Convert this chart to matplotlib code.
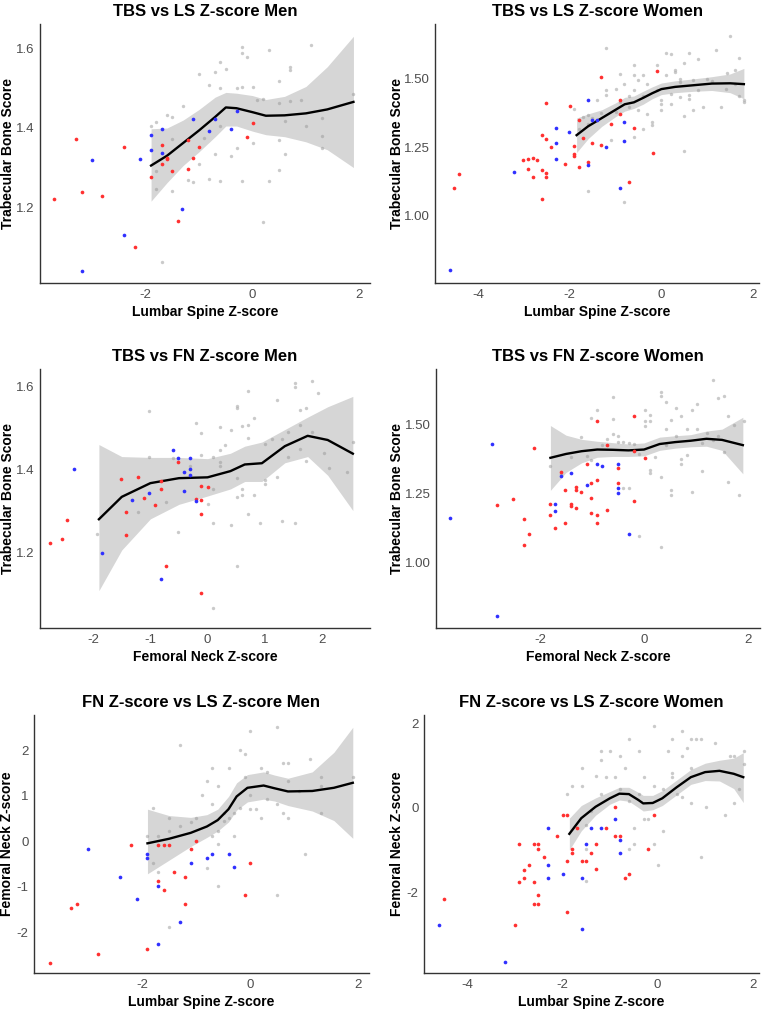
import matplotlib
matplotlib.use("Agg")
import matplotlib.pyplot as plt

W, H = 762, 1009
plt.rcParams["font.family"] = ["Liberation Sans", "DejaVu Sans"]

# ---- panel 1: TBS vs LS Z-score Men ----
p1_red_x = [-3.71, -3.30, -3.20, -2.81, -2.41, -2.20, -1.91, -1.70, -1.70, -1.61, -1.61, -1.50, -1.40, -1.20, -1.20, -1.11, -1.01, -0.11, 0.0]
p1_red_y = [1.221, 1.372, 1.238, 1.228, 1.351, 1.098, 1.275, 1.356, 1.310, 1.325, 1.322, 1.290, 1.164, 1.369, 1.296, 1.324, 1.353, 1.377, 1.413]
p1_blue_x = [-3.01, -3.20, -2.41, -2.11, -1.91, -1.91, -1.70, -1.70, -1.32, -1.11, -0.81, -0.70, -0.40, -0.30]
p1_blue_y = [1.319, 1.039, 1.130, 1.322, 1.383, 1.344, 1.397, 1.338, 1.194, 1.423, 1.392, 1.423, 1.397, 1.444]
p1_gray_x = [-1.91, -1.80, -1.80, -1.80, -1.70, -1.61, -1.50, -1.50, -1.50, -1.30, -1.20, -1.11, -1.01, -1.01, -0.91,
             -0.81, -0.81, -0.70, -0.70, -0.60, -0.60, -0.60, -0.60, -0.50, -0.40, -0.30, -0.30, -0.20, -0.20, -0.20,
             -0.20, -0.11, 0.0, 0.0, 0.09, 0.20, 0.20, 0.30, 0.30, 0.50, 0.50, 0.50, 0.50, 0.60, 0.60, 0.70, 0.70,
             0.70, 0.90, 1.00, 1.10, 1.30, 1.30, 1.30, 1.89]
p1_gray_y = [1.406, 1.415, 1.290, 1.246, 1.062, 1.432, 1.428, 1.372, 1.240, 1.455, 1.269, 1.263, 1.537, 1.310, 1.374,
             1.508, 1.272, 1.541, 1.334, 1.567, 1.501, 1.265, 1.404, 1.548, 1.328, 1.350, 1.501, 1.605, 1.590, 1.503,
             1.267, 1.580, 1.503, 1.362, 1.472, 1.474, 1.162, 1.596, 1.267, 1.520, 1.462, 1.369, 1.293, 1.417, 1.335,
             1.555, 1.546, 1.469, 1.472, 1.404, 1.611, 1.425, 1.379, 1.350, 1.487]
p1_fit_x = [-1.9, -1.6, -1.3, -1.0, -0.7, -0.5, -0.3, 0.0, 0.25, 0.6, 1.0, 1.4, 1.89]
p1_fit_y = [1.305, 1.330, 1.362, 1.394, 1.428, 1.452, 1.450, 1.440, 1.431, 1.432, 1.437, 1.447, 1.466]
p1_fit_lo = [1.215, 1.262, 1.305, 1.340, 1.378, 1.405, 1.405, 1.392, 1.383, 1.378, 1.365, 1.345, 1.300]
p1_fit_hi = [1.398, 1.400, 1.420, 1.447, 1.478, 1.490, 1.488, 1.482, 1.472, 1.480, 1.505, 1.555, 1.632]

# ---- panel 2: TBS vs LS Z-score Women ----
p2_red_x = [-4.52, -4.41, -3.01, -2.92, -2.91, -2.81, -2.81, -2.71, -2.61, -2.61, -2.61, -2.51, -2.51, -2.51, -2.51,
            -2.41, -2.11, -2.00, -1.91, -1.91, -1.91, -1.80, -1.80, -1.71, -1.61, -1.51, -1.31, -1.31, -1.11, -0.91,
            -0.91, -0.71, -0.60, -0.18, -0.10]
p2_red_y = [1.101, 1.153, 1.204, 1.169, 1.208, 1.210, 1.141, 1.204, 1.167, 1.294, 1.061, 1.410, 1.278, 1.155, 1.141,
            1.251, 1.187, 1.398, 1.254, 1.223, 1.216, 1.349, 1.177, 1.281, 1.196, 1.266, 1.505, 1.258, 1.334, 1.419,
            1.370, 1.123, 1.320, 1.229, 1.525]
p2_blue_x = [-4.62, -3.21, -2.31, -2.31, -2.31, -2.01, -1.61, -1.61, -1.51, -1.40, -1.21, -0.91, -0.81, -0.81]
p2_blue_y = [0.804, 1.159, 1.318, 1.263, 1.207, 1.305, 1.422, 1.183, 1.349, 1.349, 1.251, 1.100, 1.342, 1.273]
p2_gray_x = [-1.91, -1.80, -1.71, -1.61, -1.61, -1.61, -1.51, -1.40, -1.31, -1.21, -1.21, -1.21, -1.11, -1.00, -1.00,
             -0.91, -0.91, -0.81, -0.81, -0.71, -0.71, -0.60, -0.60, -0.60, -0.60, -0.50, -0.50, -0.40, -0.40, -0.40,
             -0.31, -0.31, -0.20, -0.20, -0.10, -0.10, 0.0, 0.0, 0.0, 0.09, 0.09, 0.20, 0.20, 0.20, 0.30, 0.30, 0.40,
             0.40, 0.40, 0.49, 0.49, 0.49, 0.60, 0.60, 0.60, 0.70, 0.70, 0.80, 0.80, 0.90, 1.00, 1.20, 1.30, 1.40,
             1.50, 1.60, 1.70, 1.70, 1.80, 1.80, 1.60, 1.10, 1.43]
p2_gray_y = [1.388, 1.317, 1.359, 1.365, 1.335, 1.092, 1.354, 1.419, 1.375, 1.610, 1.455, 1.437, 1.275, 1.461, 1.377,
             1.513, 1.412, 1.480, 1.052, 1.435, 1.395, 1.546, 1.510, 1.455, 1.287, 1.492, 1.383, 1.510, 1.434, 1.317,
             1.480, 1.371, 1.341, 1.329, 1.546, 1.455, 1.419, 1.405, 1.383, 1.592, 1.510, 1.586, 1.443, 1.407, 1.528,
             1.522, 1.498, 1.431, 1.486, 1.554, 1.363, 1.235, 1.590, 1.437, 1.425, 1.492, 1.383, 1.570, 1.455, 1.395,
             1.498, 1.600, 1.395, 1.461, 1.654, 1.528, 1.573, 1.435, 1.419, 1.413, 1.480, 1.490, 1.520]
p2_fit_x = [-1.85, -1.6, -1.3, -1.0, -0.8, -0.6, -0.4, -0.2, 0.0, 0.3, 0.7, 1.1, 1.5, 1.8]
p2_fit_y = [1.293, 1.325, 1.355, 1.385, 1.405, 1.412, 1.428, 1.445, 1.460, 1.468, 1.474, 1.480, 1.481, 1.478]
p2_fit_lo = [1.230, 1.280, 1.325, 1.360, 1.380, 1.390, 1.405, 1.425, 1.440, 1.447, 1.452, 1.455, 1.447, 1.425]
p2_fit_hi = [1.355, 1.370, 1.385, 1.410, 1.430, 1.435, 1.452, 1.468, 1.482, 1.490, 1.497, 1.505, 1.515, 1.535]

# ---- panel 3: TBS vs FN Z-score Men ----
p3_red_x = [-2.75, -2.54, -2.45, -1.52, -1.42, -1.42, -1.22, -1.12, -0.92, -0.82, -0.82, -0.72, -0.51, -0.20, -0.11,
            -0.11, -0.11, -0.11, 0.0]
p3_red_y = [1.222, 1.231, 1.276, 1.375, 1.297, 1.240, 1.380, 1.329, 1.313, 1.372, 1.353, 1.166, 1.416, 1.328, 1.359,
            1.326, 1.291, 1.101, 1.356]
p3_blue_x = [-2.34, -1.84, -1.32, -1.02, -0.82, -0.61, -0.51, -0.41, -0.41, -0.31, -0.31, -0.31, -0.20]
p3_blue_y = [1.399, 1.197, 1.325, 1.342, 1.134, 1.447, 1.426, 1.394, 1.347, 1.426, 1.400, 1.386, 1.323]
p3_gray_x = [-1.94, -1.22, -1.02, -1.02, -0.72, -0.61, -0.51, -0.31, -0.20, -0.11, -0.11, 0.0, 0.10, 0.10, 0.10, 0.10,
             0.21, 0.21, 0.21, 0.21, 0.31, 0.41, 0.41, 0.51, 0.51, 0.51, 0.51, 0.51, 0.61, 0.61, 0.61, 0.71, 0.71,
             0.71, 0.71, 0.81, 0.81, 0.91, 1.01, 1.01, 1.01, 1.12, 1.21, 1.21, 1.31, 1.31, 1.41, 1.52, 1.52, 1.52,
             1.62, 1.62, 1.62, 1.72, 1.72, 1.82, 1.93, 2.03, 2.13, 2.44, 2.54, 1.82, 1.41]
p3_gray_y = [1.243, 1.296, 1.539, 1.428, 1.320, 1.427, 1.248, 1.408, 1.512, 1.488, 1.435, 1.316, 1.428, 1.352, 1.269,
             1.065, 1.502, 1.446, 1.416, 1.408, 1.458, 1.494, 1.265, 1.553, 1.546, 1.378, 1.332, 1.166, 1.504, 1.352,
             1.337, 1.589, 1.506, 1.475, 1.292, 1.523, 1.337, 1.269, 1.460, 1.373, 1.365, 1.472, 1.567, 1.382, 1.472,
             1.275, 1.428, 1.607, 1.597, 1.269, 1.542, 1.506, 1.448, 1.546, 1.420, 1.611, 1.582, 1.438, 1.402, 1.392,
             1.464, 1.490, 1.490]
p3_fit_x = [-1.9, -1.5, -1.0, -0.5, 0.0, 0.4, 0.65, 0.95, 1.35, 1.75, 2.1, 2.54]
p3_fit_y = [1.279, 1.333, 1.366, 1.378, 1.380, 1.395, 1.411, 1.414, 1.455, 1.480, 1.470, 1.437]
p3_fit_lo = [1.107, 1.205, 1.280, 1.315, 1.335, 1.352, 1.370, 1.370, 1.415, 1.430, 1.385, 1.300]
p3_fit_hi = [1.459, 1.430, 1.428, 1.428, 1.425, 1.438, 1.455, 1.465, 1.495, 1.525, 1.550, 1.575]

# ---- panel 4: TBS vs FN Z-score Women ----
p4_red_x = [-2.82, -2.51, -2.31, -2.31, -2.21, -2.12, -1.81, -1.81, -1.71, -1.60, -1.51, -1.51, -1.41, -1.41, -1.31,
            -1.31, -1.31, -1.21, -1.10, -1.01, -1.01, -1.01, -0.90, -0.90, -0.90, -0.90, -0.71, -0.71, -0.50, -0.50,
            -0.19, -0.19, -0.19, 0.01]
p4_red_y = [1.206, 1.227, 1.155, 1.062, 1.103, 1.415, 1.212, 1.169, 1.123, 1.325, 1.261, 1.142, 1.209, 1.205, 1.272,
            1.260, 1.197, 1.255, 1.354, 1.285, 1.233, 1.178, 1.512, 1.299, 1.170, 1.142, 1.425, 1.188, 1.340, 1.285,
            1.530, 1.403, 1.220, 1.376]
p4_blue_x = [-3.73, -2.92, -2.82, -1.71, -1.71, -1.60, -1.41, -1.10, -0.90, -0.80, -0.50, -0.50, -0.50, -0.29]
p4_blue_y = [1.160, 1.427, 0.803, 1.212, 1.184, 1.312, 1.322, 1.279, 1.354, 1.347, 1.354, 1.267, 1.252, 1.102]
p4_gray_x = [-1.81, -1.60, -1.41, -1.21, -1.10, -1.01, -1.01, -0.90, -0.80, -0.71, -0.60, -0.60, -0.60, -0.50, -0.50,
             -0.40, -0.40, -0.29, -0.29, -0.19, -0.09, -0.09, 0.01, 0.01, 0.01, 0.12, 0.12, 0.12, 0.12, 0.22, 0.32,
             0.32, 0.32, 0.32, 0.42, 0.42, 0.42, 0.51, 0.51, 0.51, 0.62, 0.62, 0.72, 0.72, 0.72, 0.82, 0.82, 0.92,
             0.92, 1.02, 1.02, 1.12, 1.22, 1.32, 1.32, 1.42, 1.53, 1.62, 1.62, 1.83, 1.92, 1.73, 1.12, 1.42, 1.53]
p4_gray_y = [1.348, 1.318, 1.382, 1.455, 1.384, 1.524, 1.370, 1.550, 1.425, 1.447, 1.597, 1.518, 1.465, 1.458, 1.437,
             1.437, 1.267, 1.431, 1.267, 1.427, 1.391, 1.093, 1.550, 1.512, 1.495, 1.534, 1.510, 1.334, 1.322, 1.382,
             1.615, 1.601, 1.309, 1.055, 1.579, 1.482, 1.425, 1.516, 1.261, 1.243, 1.559, 1.458, 1.530, 1.373, 1.354,
             1.482, 1.388, 1.255, 1.552, 1.572, 1.482, 1.331, 1.467, 1.661, 1.443, 1.595, 1.603, 1.530, 1.291, 1.243,
             1.510, 1.498, 1.431, 1.458, 1.400]
p4_fit_x = [-1.8, -1.5, -1.2, -0.9, -0.6, -0.3, 0.0, 0.3, 0.6, 0.9, 1.2, 1.5, 1.9]
p4_fit_y = [1.378, 1.392, 1.402, 1.408, 1.407, 1.405, 1.408, 1.428, 1.435, 1.440, 1.447, 1.443, 1.424]
p4_fit_lo = [1.260, 1.325, 1.360, 1.380, 1.383, 1.383, 1.385, 1.405, 1.413, 1.418, 1.420, 1.405, 1.320]
p4_fit_hi = [1.495, 1.460, 1.445, 1.438, 1.433, 1.428, 1.432, 1.453, 1.458, 1.462, 1.475, 1.482, 1.525]

# ---- panel 5: FN Z-score vs LS Z-score Men ----
p5_red_x = [-3.71, -3.31, -3.20, -2.81, -2.20, -1.90, -1.70, -1.70, -1.60, -1.60, -1.50, -1.40, -1.20, -1.20, -1.10,
            -1.00, -0.09, 0.0]
p5_red_y = [-2.67, -1.48, -1.38, -2.48, -0.08, -2.37, -0.08, -0.88, -0.08, -1.08, -0.08, -0.68, -0.78, -1.38, -0.18,
            0.01, -1.18, -0.48]
p5_blue_x = [-3.00, -2.40, -2.10, -1.90, -1.90, -1.70, -1.70, -1.30, -1.10, -0.79, -0.70, -0.39, -0.29]
p5_blue_y = [-0.18, -0.78, -1.27, -0.28, -0.38, -0.98, -2.27, -1.77, -0.48, -0.38, -0.28, -0.28, -0.58]
p5_gray_x = [-1.9, -1.8, -1.8, -1.7, -1.7, -1.5, -1.5, -1.5, -1.3, -1.3, -1.1, -1.0, -0.89, -0.79, -0.79, -0.7, -0.7,
             -0.7, -0.6, -0.6, -0.6, -0.6, -0.49, -0.49, -0.39, -0.39, -0.29, -0.29, -0.19, -0.19, -0.09, -0.09, 0.0,
             0.0, 0.0, 0.1, 0.2, 0.2, 0.31, 0.31, 0.5, 0.5, 0.5, 0.61, 0.61, 0.71, 0.71, 0.71, 0.91, 1.01, 1.11,
             1.31, 1.31, 1.31, 1.91]
p5_gray_y = [0.10, 0.72, -0.48, 0.12, -0.68, 0.51, 0.22, -1.88, 2.10, 0.32, 0.42, 0.51, 1.01, 1.31, -0.59, 1.60, 0.81,
             0.11, 1.21, 0.22, -0.07, -0.98, 0.62, 0.43, 1.60, 0.51, 0.11, 0.62, 2.00, 0.72, 1.91, 1.41, 2.41, 0.71,
             1.01, 0.71, 1.60, 0.51, 1.51, 0.92, 2.51, 0.81, -1.18, 1.71, 0.62, 1.71, 1.31, 0.51, 1.10, -0.28, 1.81,
             1.41, 1.21, 0.62, 1.41]
p5_fit_x = [-1.9, -1.5, -1.1, -0.8, -0.6, -0.4, -0.25, -0.05, 0.25, 0.45, 0.7, 1.15, 1.55, 1.9]
p5_fit_y = [-0.05, 0.05, 0.18, 0.32, 0.46, 0.70, 0.98, 1.17, 1.22, 1.16, 1.09, 1.10, 1.17, 1.28]
p5_fit_lo = [-0.72, -0.42, -0.12, 0.08, 0.22, 0.42, 0.68, 0.86, 0.92, 0.88, 0.78, 0.66, 0.45, 0.06]
p5_fit_hi = [0.70, 0.56, 0.52, 0.58, 0.70, 0.98, 1.28, 1.46, 1.52, 1.45, 1.38, 1.52, 1.95, 2.50]

# ---- panel 6: FN Z-score vs LS Z-score Women ----
p6_red_x = [-4.49, -2.99, -2.90, -2.90, -2.80, -2.80, -2.70, -2.59, -2.59, -2.59, -2.50, -2.50, -2.50, -2.50, -2.39,
            -2.10, -1.99, -1.89, -1.89, -1.89, -1.79, -1.79, -1.69, -1.59, -1.49, -1.39, -1.29, -1.29, -1.09, -0.89,
            -0.89, -0.79, -0.69, -0.59, -0.19, -0.08]
p6_red_y = [-2.17, -2.77, -0.87, -1.76, -1.67, -1.47, -1.36, -0.87, -1.76, -2.27, -0.87, -0.97, -2.06, -2.27, -1.17,
            -0.66, -0.17, -0.17, -1.26, -2.47, -0.97, -1.07, -0.47, -1.26, -1.26, -1.07, -1.46, -0.87, -0.47, 0.02,
            -0.67, -0.67, -1.67, -1.57, -0.97, -0.17]
p6_blue_x = [-4.59, -3.19, -2.29, -2.29, -2.29, -1.99, -1.59, -1.59, -1.49, -1.39, -1.19, -0.89, -0.79, -0.79]
p6_blue_y = [-2.77, -3.66, -0.47, -1.36, -1.67, -1.57, -1.67, -2.86, -0.87, -0.47, -0.47, -0.28, -0.77, -1.07]
p6_gray_x = [-1.89, -1.79, -1.59, -1.59, -1.49, -1.49, -1.49, -1.39, -1.29, -1.19, -1.19, -1.19, -1.09, -0.99, -0.89,
             -0.79, -0.79, -0.69, -0.59, -0.59, -0.59, -0.49, -0.49, -0.39, -0.39, -0.29, -0.29, -0.19, -0.08, -0.08,
             -0.08, 0.01, 0.12, 0.12, 0.21, 0.31, 0.31, 0.41, 0.51, 0.51, 0.51, 0.62, 0.71, 0.71, 0.81, 0.91, 0.91,
             1.01, 1.21, 1.41, 1.52, 1.61, 1.71, 1.82, 1.82, 1.61, 0.71, 0.31]
p6_gray_y = [0.32, 0.51, 0.51, 0.93, -0.40, -0.99, -1.74, -0.08, 0.75, 1.33, 1.12, 0.32, 0.73, 1.33, 0.73, 1.23, 0.43,
             0.93, 1.62, 0.16, -0.99, -0.47, -0.87, 1.33, 0.32, 0.73, -0.28, -0.28, 1.94, 0.51, -0.87, -1.36, -0.55,
             0.43, 1.33, 1.62, 0.81, 0.32, 1.82, 1.23, 0.24, 1.42, 1.62, 0.12, 1.62, -1.17, 1.62, 0.02, 1.52, -0.17,
             1.23, 1.23, 0.43, 1.33, 1.03, 0.12, 0.93, 0.73]
p6_fit_x = [-1.85, -1.6, -1.3, -1.0, -0.8, -0.6, -0.4, -0.3, -0.1, 0.1, 0.4, 0.7, 1.0, 1.3, 1.6, 1.8]
p6_fit_y = [-0.62, -0.25, 0.02, 0.22, 0.33, 0.32, 0.18, 0.10, 0.11, 0.22, 0.48, 0.72, 0.84, 0.87, 0.80, 0.72]
p6_fit_lo = [-1.00, -0.55, -0.18, 0.08, 0.18, 0.15, 0.00, -0.08, -0.05, 0.05, 0.30, 0.55, 0.64, 0.63, 0.45, 0.12]
p6_fit_hi = [-0.25, 0.05, 0.23, 0.38, 0.48, 0.48, 0.36, 0.29, 0.29, 0.40, 0.65, 0.90, 1.05, 1.12, 1.17, 1.30]

RED = "#ff3030"
BLUE = "#3030ff"
GRAY = "#b4b4b4"


def add_panel(fig, box, label_x, xlim, ylim, xticks, yticks, ytick_fmt, title, xlabel, ylabel,
              gray, red, blue, fit):
    left, right, top, bottom = box
    ax = fig.add_axes([left / W, 1 - bottom / H, (right - left) / W, (bottom - top) / H])
    ax.scatter(gray[0], gray[1], s=6, color=GRAY, alpha=0.7, lw=0, zorder=1)
    fx, fy, flo, fhi = fit
    ax.fill_between(fx, flo, fhi, color="#999999", alpha=0.4, lw=0, zorder=2)
    ax.plot(fx, fy, color="black", lw=1.7, zorder=3)
    ax.scatter(red[0], red[1], s=7, color=RED, lw=0, zorder=4)
    ax.scatter(blue[0], blue[1], s=7, color=BLUE, lw=0, zorder=4)
    ax.set_xlim(*xlim)
    ax.set_ylim(*ylim)
    ax.set_xticks(xticks)
    ax.set_yticks(yticks)
    ax.set_yticklabels([ytick_fmt.format(v) for v in yticks])
    ax.set_xticklabels([f"{v:g}" for v in xticks])
    for side in ("top", "right"):
        ax.spines[side].set_visible(False)
    for side in ("left", "bottom"):
        ax.spines[side].set_color("#333333")
        ax.spines[side].set_linewidth(1.0)
    ax.tick_params(length=0, labelsize=9.5, labelcolor="#4d4d4d", pad=4)
    ax.set_title(title, fontsize=12, fontweight="bold", pad=6)
    ax.set_xlabel(xlabel, fontsize=10, fontweight="bold", labelpad=3)
    ax.set_ylabel(ylabel, fontsize=10, fontweight="bold")
    # right edge of the rotated label sits at label_x pixels
    ax.yaxis.set_label_coords((label_x - left) / (right - left), 0.5)
    return ax


fig = plt.figure(figsize=(W / 100, H / 100), dpi=100)

add_panel(fig, (40, 370, 24, 283), 15, (-3.98, 2.2), (1.008, 1.663), [-2, 0, 2], [1.2, 1.4, 1.6], "{:.1f}",
          "TBS vs LS Z-score Men", "Lumbar Spine Z-score", "Trabecular Bone Score",
          (p1_gray_x, p1_gray_y), (p1_red_x, p1_red_y), (p1_blue_x, p1_blue_y),
          (p1_fit_x, p1_fit_y, p1_fit_lo, p1_fit_hi))
add_panel(fig, (435, 759, 24, 283), 404, (-4.94, 2.13), (0.757, 1.696), [-4, -2, 0, 2], [1.0, 1.25, 1.5], "{:.2f}",
          "TBS vs LS Z-score Women", "Lumbar Spine Z-score", "Trabecular Bone Score",
          (p2_gray_x, p2_gray_y), (p2_red_x, p2_red_y), (p2_blue_x, p2_blue_y),
          (p2_fit_x, p2_fit_y, p2_fit_lo, p2_fit_hi))
add_panel(fig, (40, 370, 369, 628), 15, (-2.93, 2.84), (1.017, 1.641), [-2, -1, 0, 1, 2], [1.2, 1.4, 1.6], "{:.1f}",
          "TBS vs FN Z-score Men", "Femoral Neck Z-score", "Trabecular Bone Score",
          (p3_gray_x, p3_gray_y), (p3_red_x, p3_red_y), (p3_blue_x, p3_blue_y),
          (p3_fit_x, p3_fit_y, p3_fit_lo, p3_fit_hi))
add_panel(fig, (436, 760, 369, 628), 404, (-4.0, 2.23), (0.761, 1.70), [-2, 0, 2], [1.0, 1.25, 1.5], "{:.2f}",
          "TBS vs FN Z-score Women", "Femoral Neck Z-score", "Trabecular Bone Score",
          (p4_gray_x, p4_gray_y), (p4_red_x, p4_red_y), (p4_blue_x, p4_blue_y),
          (p4_fit_x, p4_fit_y, p4_fit_lo, p4_fit_hi))
add_panel(fig, (34, 369, 715, 973), 14, (-4.0, 2.2), (-2.9, 2.77), [-2, 0, 2], [-2, -1, 0, 1, 2], "{:g}",
          "FN Z-score vs LS Z-score Men", "Lumbar Spine Z-score", "Femoral Neck Z-score",
          (p5_gray_x, p5_gray_y), (p5_red_x, p5_red_y), (p5_blue_x, p5_blue_y),
          (p5_fit_x, p5_fit_y, p5_fit_lo, p5_fit_hi))
add_panel(fig, (424, 759, 715, 973), 404, (-4.9, 2.13), (-3.91, 2.19), [-4, -2, 0, 2], [-2, 0, 2], "{:g}",
          "FN Z-score vs LS Z-score Women", "Lumbar Spine Z-score", "Femoral Neck Z-score",
          (p6_gray_x, p6_gray_y), (p6_red_x, p6_red_y), (p6_blue_x, p6_blue_y),
          (p6_fit_x, p6_fit_y, p6_fit_lo, p6_fit_hi))

fig.savefig("out.png", dpi=100)
